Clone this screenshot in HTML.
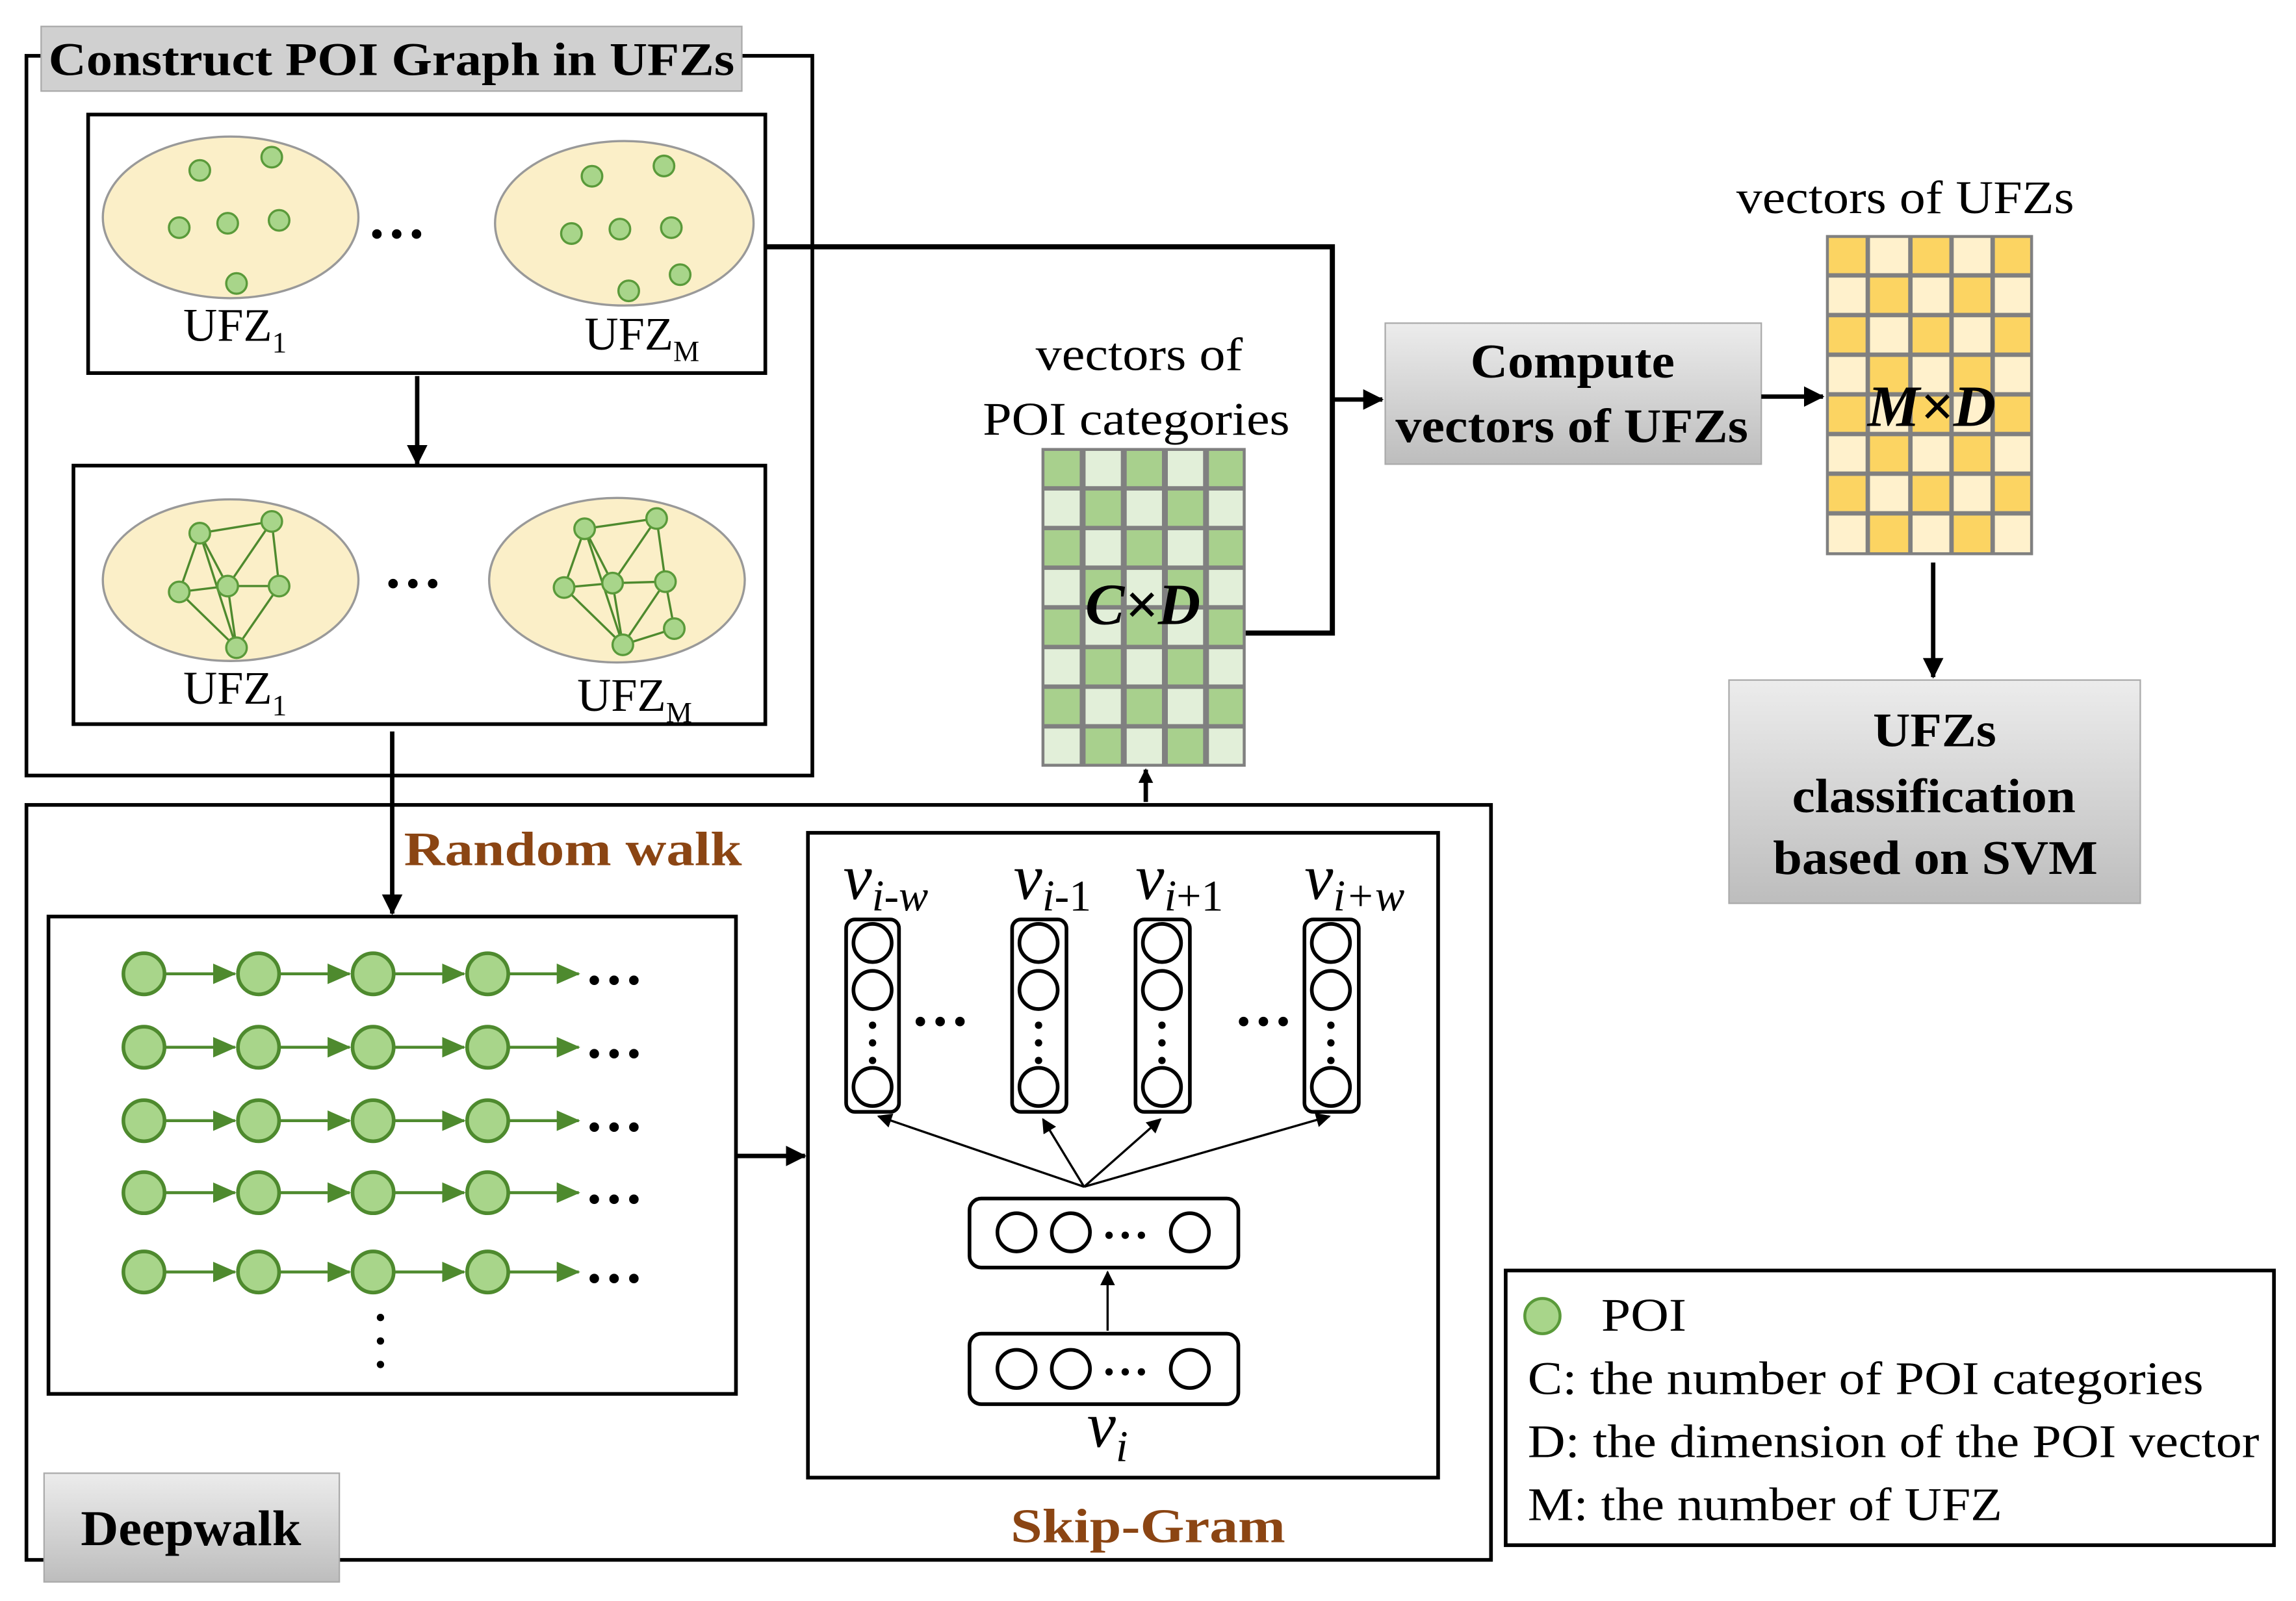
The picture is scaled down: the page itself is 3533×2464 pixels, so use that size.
<!DOCTYPE html>
<html><head><meta charset="utf-8"><style>html,body{margin:0;padding:0;background:#fff}svg{display:block}</style></head>
<body>
<svg xmlns="http://www.w3.org/2000/svg" width="3533" height="2464" viewBox="0 0 1563 1090" preserveAspectRatio="none" font-family="Liberation Serif, serif">
<defs>
<marker id="ah" markerWidth="10" markerHeight="10" refX="9" refY="5" orient="auto" markerUnits="userSpaceOnUse"><path d="M0,0 L10,5 L0,10 z" fill="#000"/></marker>
<marker id="ag" markerWidth="16" markerHeight="14" refX="15" refY="7" orient="auto" markerUnits="userSpaceOnUse"><path d="M0,0 L16,7 L0,14 z" fill="#4e8a2e"/></marker>
<marker id="as" markerWidth="14" markerHeight="14" refX="13" refY="7" orient="auto" markerUnits="userSpaceOnUse"><path d="M0,0 L14,7 L0,14 z" fill="#000"/></marker>
<linearGradient id="gg" x1="0" y1="0" x2="0" y2="1"><stop offset="0" stop-color="#ececec"/><stop offset="1" stop-color="#bdbdbd"/></linearGradient>
</defs>

<rect x="18" y="38" width="535" height="490" fill="none" stroke="#000" stroke-width="2.5"/>
<rect x="28" y="18" width="477" height="44" fill="#d0d0d0" stroke="#aaa"/>
<text x="33" y="51" font-size="32" font-weight="bold" textLength="467" lengthAdjust="spacingAndGlyphs">Construct POI Graph in UFZs</text>

<rect x="60" y="78" width="461" height="176" fill="#fff" stroke="#000" stroke-width="2.5"/>
<g fill="#fbefc8" stroke="#999" stroke-width="1.5">
<ellipse cx="157" cy="148" rx="87" ry="55"/><ellipse cx="425" cy="152" rx="88" ry="56"/>
</g>
<g fill="#a8d58a" stroke="#5a9a3a" stroke-width="1.5">
<circle cx="136" cy="116" r="7"/><circle cx="185" cy="107" r="7"/><circle cx="122" cy="155" r="7"/><circle cx="155" cy="152" r="7"/><circle cx="190" cy="150" r="7"/><circle cx="161" cy="193" r="7"/>
<circle cx="403" cy="120" r="7"/><circle cx="452" cy="113" r="7"/><circle cx="389" cy="159" r="7"/><circle cx="422" cy="156" r="7"/><circle cx="457" cy="155" r="7"/><circle cx="428" cy="198" r="7"/><circle cx="463" cy="187" r="7"/>
</g>
<text x="270" y="162" font-size="40" font-weight="bold" text-anchor="middle">…</text>
<text x="160" y="232" font-size="32" text-anchor="middle">UFZ<tspan font-size="20" dy="8">1</tspan></text>
<text x="437" y="238" font-size="32" text-anchor="middle">UFZ<tspan font-size="20" dy="8">M</tspan></text>

<line x1="284" y1="256" x2="284" y2="316" stroke="#000" stroke-width="3" marker-end="url(#as)"/>

<rect x="50" y="317" width="471" height="176" fill="#fff" stroke="#000" stroke-width="2.5"/>
<g fill="#fbefc8" stroke="#999" stroke-width="1.5">
<ellipse cx="157" cy="395" rx="87" ry="55"/><ellipse cx="420" cy="395" rx="87" ry="56"/>
</g>
<g stroke="#4e8a2e" stroke-width="1.5" fill="none">
<path d="M136,363 L185,355 L190,399 L161,441 L122,403 L136,363 L155,399 L185,355 M122,403 L155,399 L190,399 M155,399 L161,441 M136,363 L161,441"/>
<path d="M398,360 L447,353 L453,396 L424,439 L384,400 L398,360 L417,397 L447,353 M384,400 L417,397 L453,396 M417,397 L424,439 L459,428 L453,396 M398,360 L424,439"/>
</g>
<g fill="#a8d58a" stroke="#5a9a3a" stroke-width="1.5">
<circle cx="136" cy="363" r="7"/><circle cx="185" cy="355" r="7"/><circle cx="122" cy="403" r="7"/><circle cx="155" cy="399" r="7"/><circle cx="190" cy="399" r="7"/><circle cx="161" cy="441" r="7"/>
<circle cx="398" cy="360" r="7"/><circle cx="447" cy="353" r="7"/><circle cx="384" cy="400" r="7"/><circle cx="417" cy="397" r="7"/><circle cx="453" cy="396" r="7"/><circle cx="424" cy="439" r="7"/><circle cx="459" cy="428" r="7"/>
</g>
<text x="281" y="400" font-size="40" font-weight="bold" text-anchor="middle">…</text>
<text x="160" y="479" font-size="32" text-anchor="middle">UFZ<tspan font-size="20" dy="8">1</tspan></text>
<text x="432" y="484" font-size="32" text-anchor="middle">UFZ<tspan font-size="20" dy="8">M</tspan></text>

<rect x="18" y="548" width="997" height="514" fill="none" stroke="#000" stroke-width="2.5"/>
<line x1="267" y1="498" x2="267" y2="622" stroke="#000" stroke-width="3" marker-end="url(#as)"/>
<text x="275" y="589" font-size="33" font-weight="bold" fill="#8b4513" textLength="230" lengthAdjust="spacingAndGlyphs">Random walk</text>

<rect x="33" y="624" width="468" height="325" fill="#fff" stroke="#000" stroke-width="2.5"/>
<g stroke="#4e8a2e" stroke-width="2">
<g id="row">
<line x1="112" y1="663" x2="160" y2="663" marker-end="url(#ag)"/>
<line x1="190" y1="663" x2="238" y2="663" marker-end="url(#ag)"/>
<line x1="268" y1="663" x2="316" y2="663" marker-end="url(#ag)"/>
<line x1="346" y1="663" x2="394" y2="663" marker-end="url(#ag)"/>
<g fill="#a8d58a" stroke="#4e8a2e" stroke-width="2.5">
<circle cx="98" cy="663" r="14"/><circle cx="176" cy="663" r="14"/><circle cx="254" cy="663" r="14"/><circle cx="332" cy="663" r="14"/>
</g>
<text x="418" y="670" font-size="40" font-weight="bold" text-anchor="middle" stroke="none" fill="#000">…</text>
</g>
<use href="#row" y="50"/><use href="#row" y="100"/><use href="#row" y="149"/><use href="#row" y="203"/>
</g>
<g fill="#000"><circle cx="259" cy="897" r="2.5"/><circle cx="259" cy="913" r="2.5"/><circle cx="259" cy="929" r="2.5"/></g>

<rect x="30" y="1003" width="201" height="74" fill="url(#gg)" stroke="#aaa"/>
<text x="55" y="1052" font-size="34" font-weight="bold" textLength="150" lengthAdjust="spacingAndGlyphs">Deepwalk</text>

<line x1="501" y1="787" x2="548" y2="787" stroke="#000" stroke-width="3" marker-end="url(#as)"/>

<rect x="550" y="567" width="429" height="439" fill="#fff" stroke="#000" stroke-width="2.5"/>
<text x="688" y="1050" font-size="33" font-weight="bold" fill="#8b4513" textLength="187" lengthAdjust="spacingAndGlyphs">Skip-Gram</text>
<g fill="none" stroke="#000" stroke-width="2.5">
<rect x="576" y="626" width="36" height="131" rx="6"/><rect x="689" y="626" width="37" height="131" rx="6"/>
<rect x="773" y="626" width="37" height="131" rx="6"/><rect x="888" y="626" width="37" height="131" rx="6"/>
<circle cx="594" cy="642" r="13"/><circle cx="594" cy="674" r="13"/><circle cx="594" cy="740" r="13"/>
<circle cx="707" cy="642" r="13"/><circle cx="707" cy="674" r="13"/><circle cx="707" cy="740" r="13"/>
<circle cx="791" cy="642" r="13"/><circle cx="791" cy="674" r="13"/><circle cx="791" cy="740" r="13"/>
<circle cx="906" cy="642" r="13"/><circle cx="906" cy="674" r="13"/><circle cx="906" cy="740" r="13"/>
<rect x="660" y="816" width="183" height="47" rx="8"/><rect x="660" y="908" width="183" height="48" rx="8"/>
<circle cx="692" cy="839" r="13"/><circle cx="729" cy="839" r="13"/><circle cx="810" cy="839" r="13"/>
<circle cx="692" cy="932" r="13"/><circle cx="729" cy="932" r="13"/><circle cx="810" cy="932" r="13"/>
</g>
<g fill="#000">
<circle cx="594" cy="698" r="2.5"/><circle cx="594" cy="710" r="2.5"/><circle cx="594" cy="722" r="2.5"/>
<circle cx="707" cy="698" r="2.5"/><circle cx="707" cy="710" r="2.5"/><circle cx="707" cy="722" r="2.5"/>
<circle cx="791" cy="698" r="2.5"/><circle cx="791" cy="710" r="2.5"/><circle cx="791" cy="722" r="2.5"/>
<circle cx="906" cy="698" r="2.5"/><circle cx="906" cy="710" r="2.5"/><circle cx="906" cy="722" r="2.5"/>
<circle cx="755" cy="841" r="2.5"/><circle cx="766" cy="841" r="2.5"/><circle cx="777" cy="841" r="2.5"/>
<circle cx="755" cy="934" r="2.5"/><circle cx="766" cy="934" r="2.5"/><circle cx="777" cy="934" r="2.5"/>
</g>
<text x="640" y="698" font-size="40" font-weight="bold" text-anchor="middle">…</text>
<text x="860" y="698" font-size="40" font-weight="bold" text-anchor="middle">…</text>
<g font-size="44" font-style="italic">
<text x="574" y="612">v<tspan font-size="30" dy="8">i-w</tspan></text>
<text x="690" y="612">v<tspan font-size="30" dy="8">i</tspan><tspan font-style="normal" font-size="30">-1</tspan></text>
<text x="773" y="612">v<tspan font-size="30" dy="8">i</tspan><tspan font-style="normal" font-size="30">+1</tspan></text>
<text x="888" y="612">v<tspan font-size="30" dy="8">i+w</tspan></text>
<text x="740" y="985">v<tspan font-size="30" dy="10">i</tspan></text>
</g>
<g stroke="#000" stroke-width="1.5">
<line x1="738" y1="808" x2="598" y2="760" marker-end="url(#ah)"/>
<line x1="738" y1="808" x2="710" y2="762" marker-end="url(#ah)"/>
<line x1="738" y1="808" x2="790" y2="762" marker-end="url(#ah)"/>
<line x1="738" y1="808" x2="905" y2="760" marker-end="url(#ah)"/>
<line x1="754" y1="906" x2="754" y2="866" marker-end="url(#ah)"/>
</g>
<line x1="780" y1="546" x2="780" y2="524" stroke="#000" stroke-width="3" marker-end="url(#ah)"/>

<text x="705" y="252" font-size="32" textLength="141" lengthAdjust="spacingAndGlyphs">vectors of</text>
<text x="669" y="296" font-size="32" textLength="209" lengthAdjust="spacingAndGlyphs">POI categories</text>
<rect x="709" y="305" width="139" height="217" fill="#808080"/>
<g fill="#a8d08d">
<rect x="711" y="307" width="24" height="24"/><rect x="767" y="307" width="24" height="24"/><rect x="823" y="307" width="23" height="24"/>
<rect x="739" y="334" width="24" height="24"/><rect x="795" y="334" width="24" height="24"/>
<rect x="711" y="361" width="24" height="24"/><rect x="767" y="361" width="24" height="24"/><rect x="823" y="361" width="23" height="24"/>
<rect x="739" y="388" width="24" height="24"/><rect x="795" y="388" width="24" height="24"/>
<rect x="711" y="415" width="24" height="24"/><rect x="767" y="415" width="24" height="24"/><rect x="823" y="415" width="23" height="24"/>
<rect x="739" y="442" width="24" height="24"/><rect x="795" y="442" width="24" height="24"/>
<rect x="711" y="469" width="24" height="24"/><rect x="767" y="469" width="24" height="24"/><rect x="823" y="469" width="23" height="24"/>
<rect x="739" y="496" width="24" height="24"/><rect x="795" y="496" width="24" height="24"/>
</g>
<g fill="#e2efd9">
<rect x="739" y="307" width="24" height="24"/><rect x="795" y="307" width="24" height="24"/>
<rect x="711" y="334" width="24" height="24"/><rect x="767" y="334" width="24" height="24"/><rect x="823" y="334" width="23" height="24"/>
<rect x="739" y="361" width="24" height="24"/><rect x="795" y="361" width="24" height="24"/>
<rect x="711" y="388" width="24" height="24"/><rect x="767" y="388" width="24" height="24"/><rect x="823" y="388" width="23" height="24"/>
<rect x="739" y="415" width="24" height="24"/><rect x="795" y="415" width="24" height="24"/>
<rect x="711" y="442" width="24" height="24"/><rect x="767" y="442" width="24" height="24"/><rect x="823" y="442" width="23" height="24"/>
<rect x="739" y="469" width="24" height="24"/><rect x="795" y="469" width="24" height="24"/>
<rect x="711" y="496" width="24" height="24"/><rect x="767" y="496" width="24" height="24"/><rect x="823" y="496" width="23" height="24"/>
</g>
<text x="778" y="425" font-size="40" font-weight="bold" font-style="italic" text-anchor="middle">C×D</text>

<polyline points="521,168 907,168 907,431 848,431" fill="none" stroke="#000" stroke-width="3.5"/>
<line x1="907" y1="272" x2="941" y2="272" stroke="#000" stroke-width="3" marker-end="url(#as)"/>

<rect x="943" y="220" width="256" height="96" fill="url(#gg)" stroke="#aaa"/>
<text x="1001" y="257" font-size="33" font-weight="bold" textLength="139" lengthAdjust="spacingAndGlyphs">Compute</text>
<text x="950" y="301" font-size="33" font-weight="bold" textLength="240" lengthAdjust="spacingAndGlyphs">vectors of UFZs</text>
<line x1="1199" y1="270" x2="1241" y2="270" stroke="#000" stroke-width="3" marker-end="url(#as)"/>

<text x="1182" y="145" font-size="32" textLength="230" lengthAdjust="spacingAndGlyphs">vectors of UFZs</text>
<rect x="1243" y="160" width="141" height="218" fill="#808080"/>
<g fill="#fcd462">
<rect x="1245" y="162" width="25" height="24"/><rect x="1302" y="162" width="25" height="24"/><rect x="1358" y="162" width="24" height="24"/>
<rect x="1273" y="189" width="26" height="24"/><rect x="1330" y="189" width="25" height="24"/>
<rect x="1245" y="216" width="25" height="24"/><rect x="1302" y="216" width="25" height="24"/><rect x="1358" y="216" width="24" height="24"/>
<rect x="1273" y="243" width="26" height="24"/><rect x="1330" y="243" width="25" height="24"/>
<rect x="1245" y="270" width="25" height="24"/><rect x="1302" y="270" width="25" height="24"/><rect x="1358" y="270" width="24" height="24"/>
<rect x="1273" y="297" width="26" height="24"/><rect x="1330" y="297" width="25" height="24"/>
<rect x="1245" y="324" width="25" height="24"/><rect x="1302" y="324" width="25" height="24"/><rect x="1358" y="324" width="24" height="24"/>
<rect x="1273" y="351" width="26" height="25"/><rect x="1330" y="351" width="25" height="25"/>
</g>
<g fill="#fff1cc">
<rect x="1273" y="162" width="26" height="24"/><rect x="1330" y="162" width="25" height="24"/>
<rect x="1245" y="189" width="25" height="24"/><rect x="1302" y="189" width="25" height="24"/><rect x="1358" y="189" width="24" height="24"/>
<rect x="1273" y="216" width="26" height="24"/><rect x="1330" y="216" width="25" height="24"/>
<rect x="1245" y="243" width="25" height="24"/><rect x="1302" y="243" width="25" height="24"/><rect x="1358" y="243" width="24" height="24"/>
<rect x="1273" y="270" width="26" height="24"/><rect x="1330" y="270" width="25" height="24"/>
<rect x="1245" y="297" width="25" height="24"/><rect x="1302" y="297" width="25" height="24"/><rect x="1358" y="297" width="24" height="24"/>
<rect x="1273" y="324" width="26" height="24"/><rect x="1330" y="324" width="25" height="24"/>
<rect x="1245" y="351" width="25" height="25"/><rect x="1302" y="351" width="25" height="25"/><rect x="1358" y="351" width="24" height="25"/>
</g>
<text x="1315" y="290" font-size="40" font-weight="bold" font-style="italic" text-anchor="middle">M×D</text>
<line x1="1316" y1="383" x2="1316" y2="461" stroke="#000" stroke-width="3" marker-end="url(#as)"/>

<rect x="1177" y="463" width="280" height="152" fill="url(#gg)" stroke="#aaa"/>
<g font-size="33" font-weight="bold">
<text x="1275" y="508" textLength="84" lengthAdjust="spacingAndGlyphs">UFZs</text>
<text x="1220" y="553" textLength="193" lengthAdjust="spacingAndGlyphs">classification</text>
<text x="1207" y="595" textLength="221" lengthAdjust="spacingAndGlyphs">based on SVM</text>
</g>

<rect x="1025" y="865" width="523" height="187" fill="#fff" stroke="#000" stroke-width="2.5"/>
<circle cx="1050" cy="896" r="12" fill="#a8d58a" stroke="#5a9a3a" stroke-width="2"/>
<g font-size="32">
<text x="1090" y="906" textLength="58" lengthAdjust="spacingAndGlyphs">POI</text>
<text x="1040" y="949" textLength="460" lengthAdjust="spacingAndGlyphs">C: the number of POI categories</text>
<text x="1040" y="992" textLength="498" lengthAdjust="spacingAndGlyphs">D: the dimension of the POI vector</text>
<text x="1040" y="1035" textLength="323" lengthAdjust="spacingAndGlyphs">M: the number of UFZ</text>
</g>
</svg>
</body></html>
